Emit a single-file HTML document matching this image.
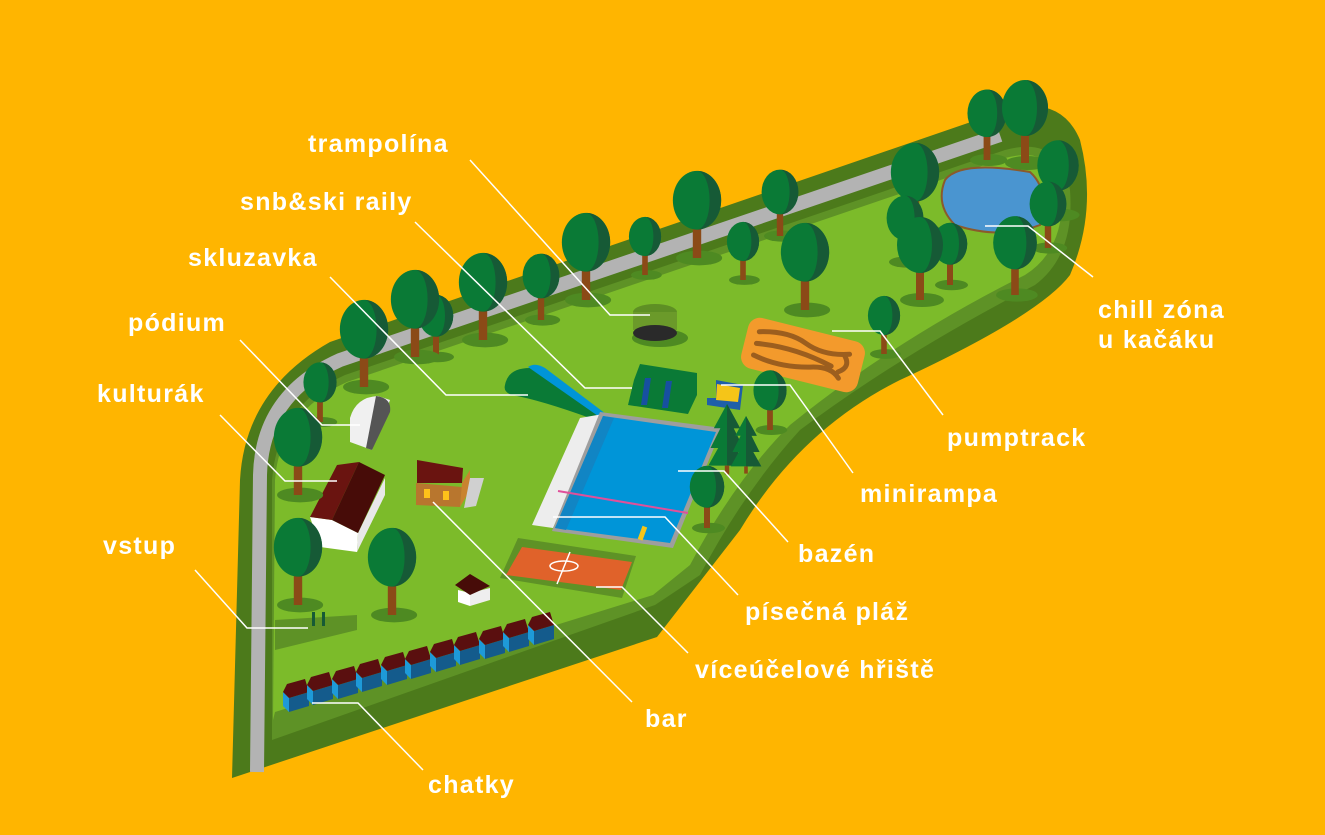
<!DOCTYPE html>
<html><head><meta charset="utf-8"><style>
html,body{margin:0;padding:0;background:#FFB500;}
svg{display:block}
text{font-family:"Liberation Sans",sans-serif;font-weight:bold;font-size:25px;fill:#fff;letter-spacing:1.3px}
</style></head><body>
<svg width="1325" height="835" viewBox="0 0 1325 835" xmlns="http://www.w3.org/2000/svg">
<defs>
<g id="tr">
<ellipse cx="2" cy="0" rx="22" ry="7" fill="#4E8A22"/>
<rect x="-4" y="-46" width="8" height="46" fill="#8B4A17"/>
<ellipse cx="0" cy="-55" rx="23" ry="28" fill="#0A7A36"/>
<path d="M0,-83 A23,28 0 0 1 0,-27 A12,28 0 0 0 0,-83Z" fill="#165A36"/>
</g>
<g id="ch">
<polygon points="0,4 6,10 6,24 0,18" fill="#1E9AD8"/>
<polygon points="6,10 26,4 26,18 6,24" fill="#145B8C"/>
<polygon points="0,4 4,-4 22,-9 26,4 6,10" fill="#5A0F0F"/>
</g>
<g id="pine">
<polygon points="0,-60 12,-38 6,-38 15,-20 8,-20 17,-4 -17,-4 -8,-20 -15,-20 -6,-38 -12,-38" fill="#0A7A36"/>
<polygon points="0,-60 12,-38 6,-38 15,-20 8,-20 17,-4 0,-4" fill="#165A36"/>
<rect x="-2" y="-4" width="4" height="8" fill="#8B4A17"/>
</g>
</defs>
<rect width="1325" height="835" fill="#FFB500"/>
<path d="M232,778 L240,480 Q245,390 330,342 L1000,112 Q1060,92 1080,140 Q1098,210 1070,275 Q1040,315 900,380 Q800,430 740,530 L657,637 Z" fill="#4C7A1B"/>
<path d="M272,740 L272,480 Q278,405 345,375 L1005,150 Q1060,135 1070,190 Q1075,255 1035,285 Q900,355 800,430 Q745,490 700,575 L655,605 Z" fill="#5E9226"/>
<path d="M257,772 L260,475 Q262,395 340,360 L1000,135" fill="none" stroke="#B3B3B3" stroke-width="14"/>
<path d="M273,720 L275,480 Q280,412 347,382 L1005,158 Q1055,145 1062,190 Q1065,250 1025,275 Q895,340 790,425 Q735,480 690,565 L653,595 L275,712 Z" fill="#7CBB2A"/>
<polygon points="275,620 357,615 357,630 275,650" fill="#5E9226"/>
<rect x="312" y="612" width="3" height="14" fill="#165A36"/><rect x="322" y="612" width="3" height="14" fill="#165A36"/>
<path d="M945,180 Q960,160 1030,172 Q1050,190 1040,225 Q1000,240 955,225 Q935,205 945,180Z" fill="#4A95D0" stroke="#8B5A2B" stroke-width="2"/>
<g transform="translate(803,355) rotate(14)">
<rect x="-60" y="-26" width="120" height="52" rx="12" fill="#F39A2C"/>
<path d="M-48,-12 Q-20,-20 0,-12 Q20,-4 45,-12 M-48,0 Q-10,-6 30,4 M-48,12 Q-20,18 10,10 Q30,4 40,14 M40,-10 Q50,0 38,8" fill="none" stroke="#9C5E1E" stroke-width="5" stroke-linecap="round"/>
</g>
<ellipse cx="655" cy="312" rx="22" ry="8" fill="#5E8F24"/>
<rect x="633" y="312" width="44" height="18" fill="#6B9A2A"/>
<ellipse cx="660" cy="338" rx="28" ry="9" fill="#4E8A22"/>
<ellipse cx="655" cy="333" rx="22" ry="8" fill="#2A2A2A"/>
<path d="M505,385 Q508,368 530,368 L606,414 L590,418 Q540,400 512,395 Q503,392 505,385Z" fill="#0A7A36"/>
<path d="M528,367 Q535,362 545,368 L606,414 L598,416 Z" fill="#0095D8"/>
<polygon points="580,418 603,414 553,528 532,525" fill="#EDEDED"/>
<polygon points="600,412 722,428 673,548 552,531" fill="#9E9E9E"/>
<polygon points="603,416 716,432 670,543 555,528" fill="#0095D8"/>
<polygon points="603,416 614,418 566,530 555,528" fill="#1185C4"/>
<line x1="558" y1="491" x2="688" y2="513" stroke="#E0509A" stroke-width="2"/>
<rect x="640" y="526" width="5" height="14" fill="#F5C518" transform="rotate(20 642 533)"/>
<polygon points="518,538 636,556 622,598 500,578" fill="#5E9226"/>
<polygon points="522,547 632,562 621,590 506,575" fill="#E0622A"/>
<ellipse cx="564" cy="566" rx="14" ry="5" fill="none" stroke="#fff" stroke-width="1.5"/>
<line x1="570" y1="552" x2="557" y2="584" stroke="#fff" stroke-width="1.5"/>
<polygon points="640,364 697,373 697,395 688,414 628,405 634,380" fill="#0A7A36"/>
<polygon points="645,378 651,378 647,405 641,405" fill="#1750A0"/>
<polygon points="666,381 672,381 668,408 662,408" fill="#1750A0"/>
<polygon points="716,380 743,385 740,410 707,405 707,398 716,398" fill="#1F5FA8"/>
<polygon points="717,384 740,388 738,402 716,400" fill="#F5C518"/>
<path d="M350,442 L350,418 Q356,397 378,396 L390,400 L372,450 Z" fill="#F0F0F0"/>
<path d="M376,396 Q392,398 390,412 L372,450 L366,448 Z" fill="#555"/>
<polygon points="310,517 332,520 358,533 357,552 320,547" fill="#FFFFFF"/>
<polygon points="358,533 385,478 385,495 357,552" fill="#E8E8E8"/>
<polygon points="337,465 359,462 332,520 310,517" fill="#6A1410"/>
<polygon points="359,462 385,475 358,533 332,520" fill="#470C08"/>
<polygon points="416,483 462,487 460,507 416,505" fill="#B8762E"/>
<rect x="424" y="489" width="6" height="9" fill="#FFC21A"/><rect x="443" y="491" width="6" height="9" fill="#FFC21A"/>
<polygon points="462,483 470,470 470,490 460,507" fill="#C9832F"/>
<polygon points="417,460 463,468 462,483 417,483" fill="#6A1410"/>
<polygon points="470,478 484,478 476,506 464,508" fill="#D0D0D0"/>
<polygon points="458,590 470,593 470,606 458,602" fill="#fff"/>
<polygon points="470,593 490,588 490,600 470,606" fill="#eee"/>
<polygon points="455,585 470,574 490,586 470,595" fill="#470C08"/>
<use href="#tr" transform="translate(987,160) scale(0.85)"/>
<use href="#tr" transform="translate(1025,163) scale(1)"/>
<use href="#tr" transform="translate(915,230) scale(1.05)"/>
<use href="#tr" transform="translate(1058,215) scale(0.9)"/>
<use href="#tr" transform="translate(780,236) scale(0.8)"/>
<use href="#tr" transform="translate(1048,248) scale(0.8)"/>
<use href="#tr" transform="translate(905,262) scale(0.8)"/>
<use href="#tr" transform="translate(697,258) scale(1.05)"/>
<use href="#tr" transform="translate(645,275) scale(0.7)"/>
<use href="#tr" transform="translate(743,280) scale(0.7)"/>
<use href="#tr" transform="translate(950,285) scale(0.75)"/>
<use href="#tr" transform="translate(1015,295) scale(0.95)"/>
<use href="#tr" transform="translate(920,300) scale(1)"/>
<use href="#tr" transform="translate(586,300) scale(1.05)"/>
<use href="#tr" transform="translate(805,310) scale(1.05)"/>
<use href="#tr" transform="translate(541,320) scale(0.8)"/>
<use href="#tr" transform="translate(483,340) scale(1.05)"/>
<use href="#tr" transform="translate(884,354) scale(0.7)"/>
<use href="#tr" transform="translate(436,357) scale(0.75)"/>
<use href="#tr" transform="translate(415,357) scale(1.05)"/>
<use href="#tr" transform="translate(364,387) scale(1.05)"/>
<use href="#tr" transform="translate(320,422) scale(0.72)"/>
<use href="#tr" transform="translate(770,430) scale(0.72)"/>
<use href="#pine" transform="translate(727,470) scale(1.1)"/>
<use href="#pine" transform="translate(746,470) scale(0.9)"/>
<use href="#tr" transform="translate(298,495) scale(1.05)"/>
<use href="#tr" transform="translate(707,528) scale(0.75)"/>
<use href="#tr" transform="translate(298,605) scale(1.05)"/>
<use href="#tr" transform="translate(392,615) scale(1.05)"/>
<use href="#ch" transform="translate(283,688)"/>
<use href="#ch" transform="translate(307,681)"/>
<use href="#ch" transform="translate(332,675)"/>
<use href="#ch" transform="translate(356,668)"/>
<use href="#ch" transform="translate(381,661)"/>
<use href="#ch" transform="translate(405,655)"/>
<use href="#ch" transform="translate(430,648)"/>
<use href="#ch" transform="translate(454,641)"/>
<use href="#ch" transform="translate(479,635)"/>
<use href="#ch" transform="translate(503,628)"/>
<use href="#ch" transform="translate(528,621)"/>
<g fill="none" stroke="#fff" stroke-width="1.5">
<polyline points="470,160 610,315 650,315"/>
<polyline points="415,222 585,388 632,388"/>
<polyline points="330,277 446,395 528,395"/>
<polyline points="240,340 322,425 360,425"/>
<polyline points="220,415 285,481 337,481"/>
<polyline points="195,570 247,628 308,628"/>
<polyline points="312,703 358,703 423,770"/>
<polyline points="433,502 632,702"/>
<polyline points="596,587 622,587 688,653"/>
<polyline points="553,517 665,517 738,595"/>
<polyline points="678,471 724,471 788,542"/>
<polyline points="721,385 790,385 853,473"/>
<polyline points="832,331 880,331 943,415"/>
<polyline points="985,226 1028,226 1093,277"/>
</g>
<text x="308" y="152">trampolína</text>
<text x="240" y="210">snb&amp;ski raily</text>
<text x="188" y="266">skluzavka</text>
<text x="128" y="331">pódium</text>
<text x="97" y="402">kulturák</text>
<text x="103" y="554">vstup</text>
<text x="428" y="793">chatky</text>
<text x="645" y="727">bar</text>
<text x="695" y="678">víceúčelové hřiště</text>
<text x="745" y="620">písečná pláž</text>
<text x="798" y="562">bazén</text>
<text x="860" y="502">minirampa</text>
<text x="947" y="446">pumptrack</text>
<text x="1098" y="318">chill zóna</text>
<text x="1098" y="348">u kačáku</text>
</svg>
</body></html>
